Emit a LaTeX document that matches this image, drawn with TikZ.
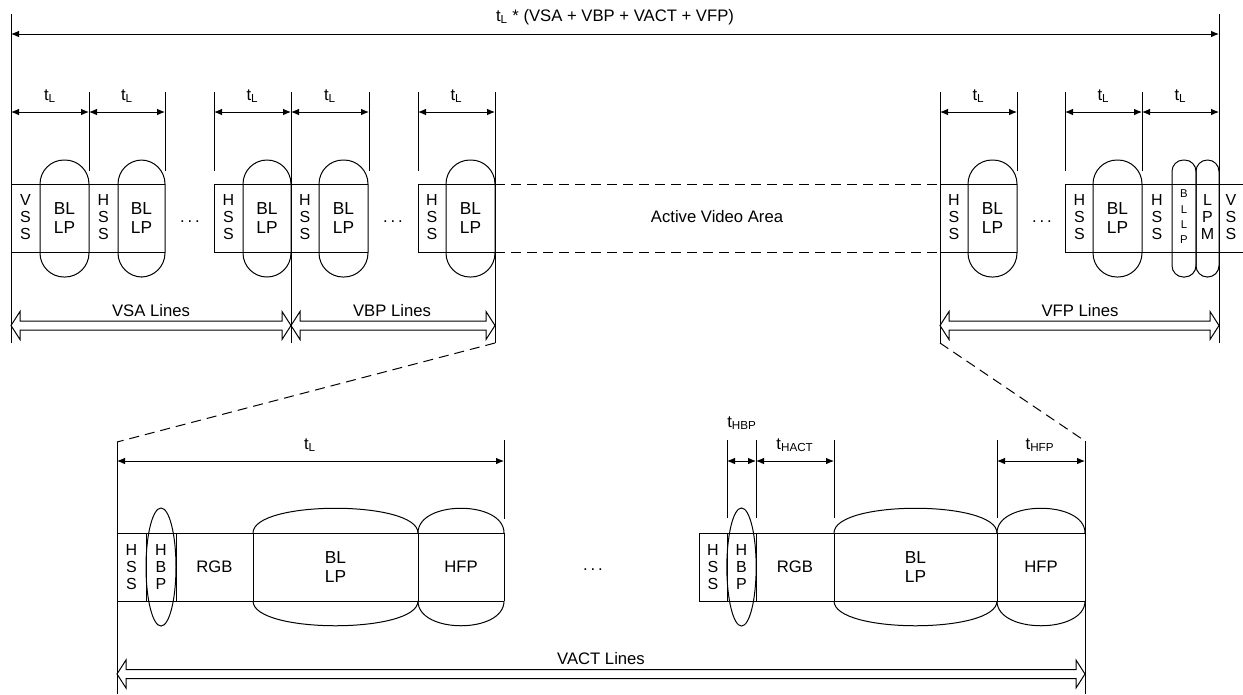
\documentclass[tikz,border=0pt]{standalone}
\usepackage{fontspec}
\setmainfont{Liberation Sans}
\usetikzlibrary{arrows.meta,calc}
\begin{document}
\begin{tikzpicture}[x=0.75pt,y=-0.75pt,
  ln/.style={line width=0.75pt},
  dim/.style={line width=0.75pt,{Latex[length=6pt,width=5pt]}-{Latex[length=6pt,width=5pt]}},
  capsule/.style={ln,rounded corners=18pt},
  ncapsule/.style={ln,rounded corners=8.5pt},
  dsh/.style={ln,dash pattern=on 7.5pt off 4.5pt},
  lbl/.style={font=\fontsize{12.5}{15}\selectfont,inner sep=0pt},
  stk/.style={font=\fontsize{12}{12.8}\selectfont,align=center,inner sep=0pt},
  tiny/.style={font=\fontsize{8.5}{11.5}\selectfont,align=center,inner sep=0pt},
  bl/.style={font=\fontsize{13}{14}\selectfont,align=center,inner sep=0pt},
]
\useasboundingbox (0,0) rectangle (1243,694);
\newcommand{\hollowarr}[2]{%
  \draw[ln] (#1) -- ++(9,-14) -- ++(0,9.5) -- ($(#2)+(-9,-4.5)$) -- ++(0,-9.5) -- (#2)
   -- ++(-9,14) -- ++(0,-9.5) -- ($(#1)+(9,4.5)$) -- ++(0,9.5) -- cycle;}
\newcommand{\mydots}{.\kern2.2pt.\kern2.2pt.}

% ---------- top overall dimension ----------
\coordinate (L0t) at (11,14);  \coordinate (L0b) at (11,343);
\coordinate (R0t) at (1219,14); \coordinate (R0b) at (1219,343);
\draw[ln] (L0t) -- (L0b);
\draw[ln] (R0t) -- (R0b);
\coordinate (tA) at (11,34); \coordinate (tB) at (1219,34);
\draw[dim] (tA) -- (tB);
\node[lbl] (title) at (615,17) {t\textsubscript{L} * (VSA + VBP + VACT + VFP)};

% ---------- tick lines ----------
\foreach \x in {89,165,214,369,418,1017,1065,1142} \draw[ln] (\x,92) -- (\x,171);
\foreach \x in {291,495,940} \draw[ln] (\x,92) -- (\x,343);

% ---------- t_L dimensions ----------
\foreach \a/\b [count=\i] in {11/89,89/165,214/291,291/369,418/495,940/1017,1065/1142,1142/1219}{
  \coordinate (ta\i) at (\a,112); \coordinate (tb\i) at (\b,112);
  \draw[dim] (ta\i) -- (tb\i);
  \node[lbl] (tl\i) at ($(ta\i)!0.5!(tb\i)+(0,-16)$) {t\textsubscript{L}};
}

% ---------- top boxes ----------
\draw[ln] (11,184) -- (165,184) (11,252) -- (165,252);
\draw[ln] (214,184) -- (368,184) (214,252) -- (368,252) (214,184) -- (214,252);
\draw[ln] (418,184) -- (495,184) (418,252) -- (495,252) (418,184) -- (418,252);
\draw[ln] (940,184) -- (1017,184) (940,252) -- (1017,252);
\draw[ln] (1065,184) -- (1243,184) (1065,252) -- (1243,252) (1065,184) -- (1065,252);
\foreach \a/\b in {40/89,118/165,243/291,319/368,446/495,968/1017,1093/1142}
  \draw[capsule] (\a,160) rectangle (\b,277);
\draw[ncapsule] (1172,160) rectangle (1196,277);
\draw[ncapsule] (1196,160) rectangle (1219,277);
\draw[dsh] (495,184) -- (940,184);
\draw[dsh] (495,252) -- (940,252);

\node[stk] (vss1) at (25.5,217) {V\\S\\S};
\foreach \x [count=\i] in {103.5,228.5,305,432,954,1079.5,1157}
  \node[stk] (hss\i) at (\x,217) {H\\S\\S};
\foreach \x [count=\i] in {64.5,141.5,267,343.5,470.5,992.5,1117.5}
  \node[bl] (bllp\i) at (\x,218) {BL\\LP};
\node[tiny] (bllpn) at (1184,217) {B\\L\\L\\P};
\node[stk] (lpm) at (1207.5,217) {L\\P\\M};
\node[stk] (vss2) at (1231,217) {V\\S\\S};
\node[lbl] (dots1) at (190,222) {\mydots};
\node[lbl] (dots2) at (393,222) {\mydots};
\node[lbl] (dots3) at (1042,222) {\mydots};
\node[lbl] (ava) at (717,217) {Active Video Area};

% ---------- hollow arrows ----------
\coordinate (vsaL) at (11,325.5); \coordinate (vsaR) at (291,325.5);
\coordinate (vbpL) at (291,325.5); \coordinate (vbpR) at (495,325.5);
\coordinate (vfpL) at (940,325.5); \coordinate (vfpR) at (1219,325.5);
\coordinate (vacL) at (117,674); \coordinate (vacR) at (1085,674);
\hollowarr{vsaL}{vsaR}
\hollowarr{vbpL}{vbpR}
\hollowarr{vfpL}{vfpR}
\hollowarr{vacL}{vacR}
\node[lbl] (vsa) at (151,311) {VSA Lines};
\node[lbl] (vbp) at (392,311) {VBP Lines};
\node[lbl] (vfp) at (1080,311) {VFP Lines};
\node[lbl] (vact) at (601,659) {VACT Lines};

% ---------- zoom dashed lines ----------
\coordinate (zL1) at (495,343); \coordinate (zL2) at (117,442);
\coordinate (zR1) at (940,343); \coordinate (zR2) at (1085,441);
\draw[dsh] (zL1) -- (zL2);
\draw[dsh] (zR1) -- (zR2);

% ---------- bottom section ----------
\draw[ln] (zL2) -- (117,694);
\draw[ln] (zR2) -- (1085,694);

% left line
\draw[ln] (504,440) -- (504,519);
\coordinate (bt1) at (117,461); \coordinate (bt2) at (504,461);
\draw[dim] (bt1) -- (bt2);
\node[lbl] (btl) at (310,445) {t\textsubscript{L}};
\draw[ln] (117,533) -- (504,533) (117,601) -- (504,601);
\foreach \x in {146,176,253,418,504} \draw[ln] (\x,533) -- (\x,601);
\draw[ln] (161,567) ellipse [x radius=11.25pt, y radius=44.25pt];
\draw[ln] (253,533) .. controls (253,500) and (418,500) .. (418,533);
\draw[ln] (253,601) .. controls (253,634) and (418,634) .. (418,601);
\draw[ln] (418,533) .. controls (418,500) and (504,500) .. (504,533);
\draw[ln] (418,601) .. controls (418,634) and (504,634) .. (504,601);
\node[stk] (bhss1) at (131.5,567) {H\\S\\S};
\node[stk] (bhbp1) at (161,567) {H\\B\\P};
\node[lbl] (rgb1) at (214.5,567) {RGB};
\node[bl] (bbl1) at (335.5,567) {BL\\LP};
\node[lbl] (hfp1) at (461,567) {HFP};

\node[lbl] (dots4) at (593,570) {\mydots};

% right line
\foreach \x in {727,756,834,997} \draw[ln] (\x,440) -- (\x,518);
\coordinate (r1) at (727,461); \coordinate (r2) at (756,461);
\coordinate (r3) at (834,461); \coordinate (r4) at (997,461); \coordinate (r5) at (1085,461);
\draw[dim] (r1) -- (r2);
\draw[dim] (r2) -- (r3);
\draw[dim] (r4) -- (r5);
\node[lbl] (thbp) at (742,423) {t\textsubscript{HBP}};
\node[lbl] (thact) at (795,445) {t\textsubscript{HACT}};
\node[lbl] (thfp) at (1040,445) {t\textsubscript{HFP}};
\draw[ln] (699,533) -- (1085,533) (699,601) -- (1085,601);
\foreach \x in {699,727,756,834,997} \draw[ln] (\x,533) -- (\x,601);
\draw[ln] (741.5,567) ellipse [x radius=11pt, y radius=44.25pt];
\draw[ln] (834,533) .. controls (834,500) and (997,500) .. (997,533);
\draw[ln] (834,601) .. controls (834,634) and (997,634) .. (997,601);
\draw[ln] (997,533) .. controls (997,500) and (1085,500) .. (1085,533);
\draw[ln] (997,601) .. controls (997,634) and (1085,634) .. (1085,601);
\node[stk] (bhss2) at (713,567) {H\\S\\S};
\node[stk] (bhbp2) at (741.5,567) {H\\B\\P};
\node[lbl] (rgb2) at (795,567) {RGB};
\node[bl] (bbl2) at (915.5,567) {BL\\LP};
\node[lbl] (hfp2) at (1041,567) {HFP};
\end{tikzpicture}
\end{document}
